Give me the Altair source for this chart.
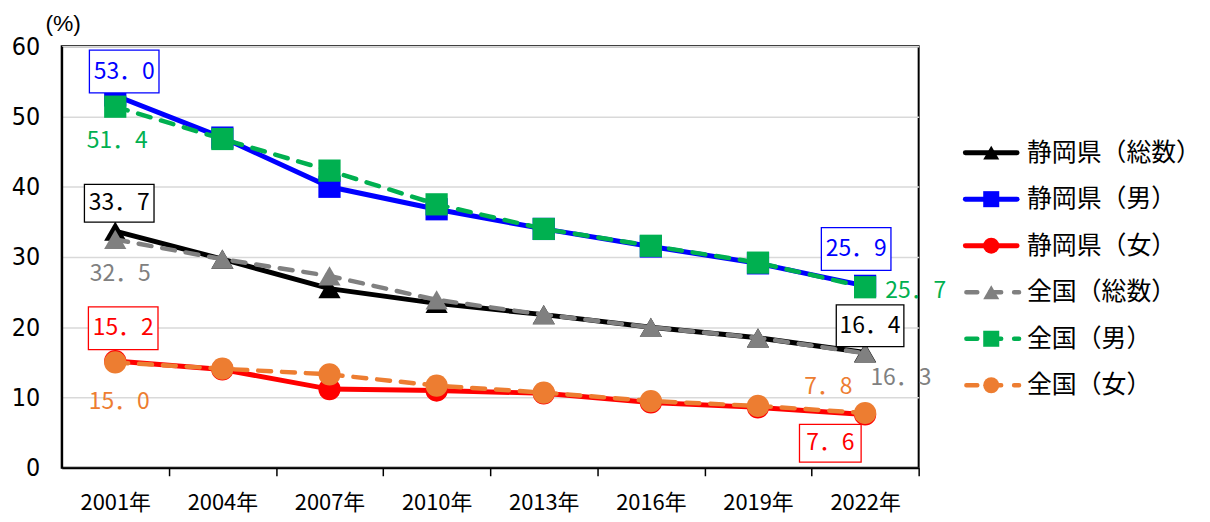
import altair as alt
import pandas as pd

years = ["2001年", "2004年", "2007年", "2010年", "2013年", "2016年", "2019年", "2022年"]
series_names = ["静岡県（総数）", "静岡県（男）", "静岡県（女）", "全国（総数）", "全国（男）", "全国（女）"]
shizuoka_total = [33.7, 29.7, 25.5, 23.4, 21.8, 20.0, 18.5, 16.4]
shizuoka_male = [53.0, 47.0, 40.0, 36.8, 34.0, 31.5, 29.1, 25.9]
shizuoka_female = [15.2, 14.0, 11.2, 11.0, 10.6, 9.3, 8.6, 7.6]
national_total = [32.5, 29.7, 27.3, 23.9, 21.8, 20.0, 18.5, 16.3]
national_male = [51.4, 46.8, 42.3, 37.5, 34.0, 31.6, 29.2, 25.7]
national_female = [15.0, 14.1, 13.3, 11.7, 10.7, 9.5, 8.8, 7.8]
colors = ["#000000", "#0000FF", "#FF0000", "#808080", "#00B050", "#ED7D31"]
shapes = ["triangle-up", "square", "circle", "triangle-up", "square", "circle"]

all_values = [shizuoka_total, shizuoka_male, shizuoka_female,
              national_total, national_male, national_female]
rows = []
for s, vals in zip(series_names, all_values):
    for y, v in zip(years, vals):
        rows.append({"year": y, "series": s, "value": v,
                     "group": "静岡県" if s.startswith("静岡県") else "全国",
                     "label": f"{v:.1f}".replace(".", "．")})
df = pd.DataFrame(rows)

JP = "Noto Sans CJK JP"
NARROW = "Liberation Sans Narrow, Arial Narrow, DejaVu Sans Condensed, sans-serif"
color_scale = alt.Scale(domain=series_names, range=colors)
shape_scale = alt.Scale(domain=series_names, range=shapes)

x_enc = alt.X("year:N", sort=years, title=None,
              scale=alt.Scale(paddingInner=0, paddingOuter=0),
              axis=alt.Axis(labelAngle=0, labelFont=JP, labelFontSize=22, labelColor="black",
                            domainColor="black", domainWidth=2, tickColor="black", tickWidth=1.5,
                            tickSize=8, tickOffset=53.875, labelOffset=-53.875, labelPadding=17,
                            grid=False))
y_enc = alt.Y("value:Q", title="(%)",
              scale=alt.Scale(domain=[0, 60], nice=False, zero=True),
              axis=alt.Axis(values=[0, 10, 20, 30, 40, 50, 60], labelFont=NARROW,
                            labelFontSize=25, labelColor="black", ticks=False, labelPadding=22,
                            domainColor="black", domainWidth=2, gridColor="#d9d9d9", gridWidth=1.5,
                            titleAngle=0, titleAlign="center", titleBaseline="middle",
                            titleX=1, titleY=-23, titleFont="Liberation Sans", titleFontSize=23,
                            titleFontWeight="normal", titleColor="black"))
color_enc = alt.Color("series:N", scale=color_scale, legend=None)
shape_enc = alt.Shape("series:N", scale=shape_scale, legend=None)

base = alt.Chart(df).encode(x=x_enc, y=y_enc, color=color_enc, detail="series:N")

shz_line = base.transform_filter(alt.datum.group == "静岡県").mark_line(strokeWidth=5)
shz_pts = base.transform_filter(alt.datum.group == "静岡県").mark_point(
    filled=True, size=500, opacity=1).encode(shape=shape_enc)
nat_line = base.transform_filter(alt.datum.group == "全国").mark_line(
    strokeWidth=4.5, strokeDash=[13, 11], strokeCap="round")
nat_pts = base.transform_filter(alt.datum.group == "全国").mark_point(
    filled=True, size=500, opacity=1).encode(shape=shape_enc)


def box_path(w, h):
    r = h / w
    return f"M-1,-{r:.4f}L1,-{r:.4f}L1,{r:.4f}L-1,{r:.4f}Z"


def label(series, year, dx, dy, box=None):
    d = df[(df.series == series) & (df.year == year)]
    layers = []
    if box is not None:
        w, h = box
        layers.append(alt.Chart(d).mark_point(
            shape=box_path(w, h), size=w * w, filled=False, fill="white", fillOpacity=1,
            opacity=1, strokeWidth=1.3, xOffset=dx, yOffset=dy
        ).encode(x=x_enc, y=y_enc, color=color_enc))
    layers.append(alt.Chart(d).mark_text(
        dx=dx, dy=dy, font=JP, fontSize=23, align="center", baseline="middle"
    ).encode(x=x_enc, y=y_enc, color=color_enc, text="label:N"))
    return layers


labels = []
labels += label("静岡県（男）", "2001年", 9, -24, (70, 43))
labels += label("全国（男）", "2001年", 2, 35)
labels += label("静岡県（総数）", "2001年", 4, -28, (70, 38))
labels += label("全国（総数）", "2001年", 5, 35)
labels += label("静岡県（女）", "2001年", 8, -33, (70, 43))
labels += label("全国（女）", "2001年", 4, 40)
labels += label("静岡県（男）", "2022年", -9, -37, (70, 43))
labels += label("全国（男）", "2022年", 51, 4)
labels += label("静岡県（総数）", "2022年", 5, -27, (68, 42))
labels += label("全国（総数）", "2022年", 36, 25)
labels += label("全国（女）", "2022年", -37, -26)
labels += label("静岡県（女）", "2022年", -35, 29, (62, 38))

main = alt.layer(shz_line, shz_pts, nat_line, nat_pts, *labels).properties(
    width=862, height=424,
    view=alt.ViewBackground(stroke="black", strokeWidth=2))

# custom legend
leg_df = pd.DataFrame({"series": series_names,
                       "kind": ["solid"] * 3 + ["dash"] * 3})
leg_y = alt.Y("series:N", sort=series_names, axis=None,
              scale=alt.Scale(type="point", range=[107, 341], padding=0))
leg_color = alt.Color("series:N", scale=color_scale, legend=None)
leg_base = alt.Chart(leg_df).encode(y=leg_y, color=leg_color)
leg_solid = leg_base.transform_filter(alt.datum.kind == "solid").mark_rule(
    strokeWidth=5, strokeCap="round").encode(x=alt.value(2), x2=alt.value(54))
leg_dash = leg_base.transform_filter(alt.datum.kind == "dash").mark_rule(
    strokeWidth=4.5, strokeDash=[11, 13], strokeCap="round").encode(x=alt.value(3), x2=alt.value(56))
leg_pts = leg_base.mark_point(filled=True, size=260, opacity=1).encode(
    x=alt.value(28), shape=alt.Shape("series:N", scale=shape_scale, legend=None))
leg_txt = alt.Chart(leg_df).mark_text(
    font=JP, fontSize=25, align="left", baseline="middle", color="black"
).encode(y=leg_y, x=alt.value(64), text="series:N")
legend = alt.layer(leg_solid, leg_dash, leg_pts, leg_txt).properties(
    width=232, height=448, view=alt.ViewBackground(stroke=None))

chart = alt.hconcat(main, legend, spacing=45, bounds="flush").properties(
    padding={"left": 2, "top": 2, "right": 0, "bottom": 0},
    background="white"
).configure_view(stroke=None).configure_axis(grid=True).configure_axisX(grid=False)

chart.save("out.html", embed_options={"renderer": "svg", "actions": False})
